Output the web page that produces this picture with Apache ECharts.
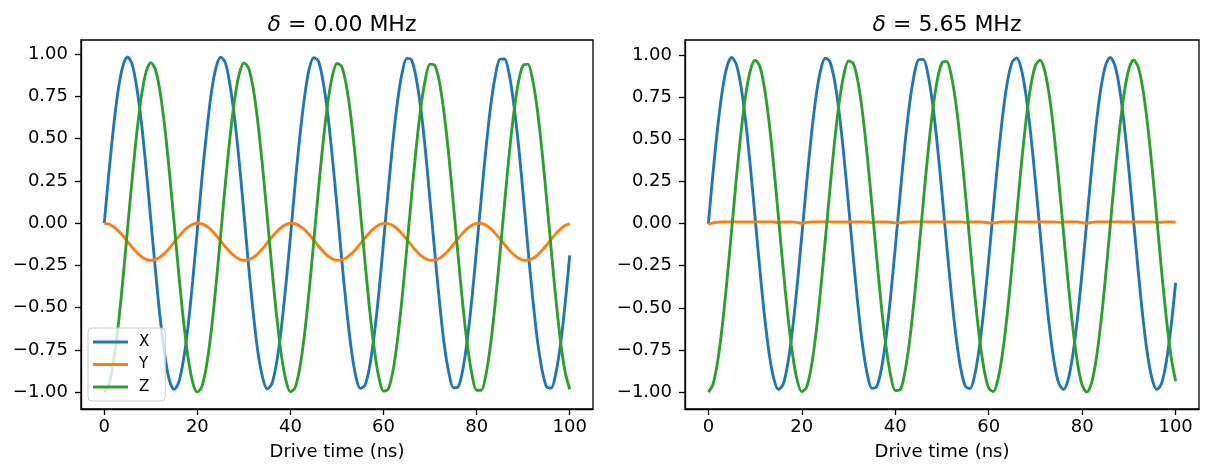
<!DOCTYPE html>
<html><head><meta charset="utf-8">
<script src="https://cdn.jsdelivr.net/npm/echarts@6/dist/echarts.min.js"></script>
<style>html,body{margin:0;padding:0;background:#fff}#c{width:1207px;height:471px}</style>
</head><body><div id="c"></div>
<script>
const time=[0,1,2,3,4,5,6,7,8,9,10,11,12,13,14,15,16,17,18,19,20,21,22,23,24,25,26,27,28,29,30,31,32,33,34,35,36,37,38,39,40,41,42,43,44,45,46,47,48,49,50,51,52,53,54,55,56,57,58,59,60,61,62,63,64,65,66,67,68,69,70,71,72,73,74,75,76,77,78,79,80,81,82,83,84,85,86,87,88,89,90,91,92,93,94,95,96,97,98,99,100];
const xTicks=[0,20,40,60,80,100];
const yTicks=[-1,-0.75,-0.5,-0.25,0,0.25,0.5,0.75,1];
const titleLeft='0.00';
const titleRight='5.65';
const xLabel='Drive time (ns)';
const names=['X','Y','Z'];

// delta = 0.00 MHz
const xL=[0,0.30,0.57,0.79,0.93,0.983,0.94,0.80,0.59,0.32,0.02,
-0.28,-0.56,-0.78,-0.93,-0.983,-0.94,-0.81,-0.61,-0.34,-0.04,
0.27,0.54,0.77,0.92,0.982,0.95,0.82,0.62,0.36,0.06,
-0.25,-0.53,-0.76,-0.91,-0.981,-0.95,-0.83,-0.63,-0.37,-0.08,
0.23,0.51,0.74,0.91,0.979,0.96,0.84,0.65,0.39,0.10,
-0.21,-0.49,-0.73,-0.90,-0.977,-0.96,-0.85,-0.66,-0.41,-0.11,
0.19,0.48,0.72,0.89,0.975,0.966,0.86,0.68,0.43,0.13,
-0.17,-0.46,-0.71,-0.88,-0.973,-0.969,-0.87,-0.69,-0.44,-0.15,
0.15,0.44,0.69,0.87,0.970,0.972,0.88,0.70,0.46,0.17,
-0.14,-0.43,-0.68,-0.86,-0.966,-0.975,-0.89,-0.72,-0.48,-0.19];
const yL=[0,-0.005,-0.021,-0.045,-0.075,-0.109,-0.143,-0.173,-0.198,-0.214,-0.220,
-0.215,-0.200,-0.177,-0.147,-0.113,-0.079,-0.048,-0.023,-0.007,0.000,
-0.004,-0.018,-0.041,-0.071,-0.105,-0.139,-0.170,-0.195,-0.213,-0.220,
-0.216,-0.203,-0.180,-0.151,-0.117,-0.083,-0.052,-0.026,-0.008,0.000,
-0.003,-0.016,-0.038,-0.067,-0.100,-0.135,-0.166,-0.193,-0.211,-0.219,
-0.217,-0.205,-0.183,-0.155,-0.122,-0.088,-0.056,-0.029,-0.010,-0.001,
-0.002,-0.014,-0.035,-0.063,-0.096,-0.130,-0.163,-0.190,-0.209,-0.219,
-0.218,-0.207,-0.187,-0.159,-0.126,-0.092,-0.059,-0.032,-0.012,-0.001,
-0.001,-0.012,-0.032,-0.060,-0.092,-0.126,-0.159,-0.187,-0.207,-0.218,
-0.219,-0.209,-0.190,-0.162,-0.130,-0.096,-0.063,-0.035,-0.014,-0.002];
const zL=[-1.000,-0.953,-0.816,-0.603,-0.333,-0.034,0.265,0.537,0.755,0.897,0.950,
0.908,0.777,0.568,0.301,0.003,-0.297,-0.572,-0.793,-0.941,-0.999,
-0.964,-0.837,-0.633,-0.369,-0.072,0.229,0.506,0.732,0.884,0.948,
0.919,0.798,0.597,0.337,0.041,-0.261,-0.540,-0.770,-0.927,-0.997,
-0.973,-0.858,-0.662,-0.404,-0.110,0.193,0.474,0.707,0.870,0.945,
0.927,0.817,0.626,0.371,0.079,-0.224,-0.508,-0.744,-0.912,-0.993,
-0.981,-0.877,-0.690,-0.439,-0.147,0.155,0.441,0.681,0.854,0.941,
0.935,0.836,0.653,0.406,0.116,-0.187,-0.474,-0.719,-0.895,-0.988,
-0.988,-0.895,-0.717,-0.472,-0.185,0.118,0.408,0.655,0.837,0.935,
0.941,0.853,0.680,0.439,0.153,-0.150,-0.441,-0.692,-0.878,-0.982];

// delta = 5.65 MHz
const xR=[0,0.301,0.573,0.790,0.932,0.985,0.943,0.811,0.602,0.335,0.036,
-0.267,-0.544,-0.769,-0.920,-0.984,-0.953,-0.831,-0.630,-0.368,-0.072,
0.232,0.513,0.745,0.907,0.981,0.961,0.850,0.657,0.402,0.108,
-0.197,-0.482,-0.722,-0.892,-0.977,-0.969,-0.867,-0.683,-0.434,-0.143,
0.161,0.451,0.697,0.876,0.972,0.974,0.884,0.709,0.466,0.179,
-0.126,-0.418,-0.670,-0.859,-0.965,-0.979,-0.899,-0.733,-0.497,-0.214,
0.090,0.386,0.644,0.841,0.957,0.982,0.913,0.757,0.528,0.249,
-0.054,-0.352,-0.616,-0.822,-0.948,-0.984,-0.926,-0.779,-0.558,-0.283,
0.018,0.318,0.588,0.801,0.938,0.985,0.938,0.801,0.587,0.318,
0.018,-0.284,-0.559,-0.780,-0.926,-0.984,-0.948,-0.821,-0.616,-0.351];
const yR=[-0.005,0.004,0.008,0.01,0.01,0.01,0.01,0.01,0.01,0.01,0.01,
0.01,0.01,0.01,0.009,0.006,0.009,0.01,0.01,0.007,0.002,
0.007,0.01,0.01,0.01,0.01,0.01,0.01,0.01,0.01,0.01,
0.01,0.01,0.01,0.009,0.006,0.009,0.01,0.01,0.008,0.004,
0.004,0.008,0.01,0.01,0.01,0.01,0.01,0.01,0.01,0.01,
0.01,0.01,0.01,0.01,0.007,0.009,0.01,0.01,0.008,0.004,
0.003,0.008,0.01,0.01,0.01,0.01,0.01,0.01,0.01,0.01,
0.01,0.01,0.01,0.01,0.007,0.009,0.01,0.01,0.01,0.006,
0.002,0.007,0.01,0.01,0.01,0.01,0.01,0.01,0.01,0.01,
0.01,0.01,0.01,0.01,0.01,0.007,0.008,0.01,0.01,0.008,0.004];
const zR=[-1.000,-0.953,-0.816,-0.603,-0.333,-0.033,0.269,0.544,0.765,0.911,0.969,
0.933,0.806,0.601,0.337,0.039,-0.264,-0.544,-0.772,-0.929,-0.997,
-0.972,-0.856,-0.659,-0.400,-0.105,0.199,0.483,0.719,0.884,0.964,
0.950,0.844,0.655,0.403,0.110,-0.194,-0.482,-0.724,-0.899,-0.990,
-0.987,-0.891,-0.711,-0.465,-0.176,0.129,0.420,0.669,0.853,0.954,
0.962,0.877,0.707,0.467,0.181,-0.123,-0.417,-0.673,-0.865,-0.976,
-0.996,-0.921,-0.760,-0.528,-0.246,0.057,0.354,0.615,0.816,0.938,
0.969,0.905,0.753,0.528,0.251,-0.051,-0.351,-0.617,-0.827,-0.958,
-1.000,-0.947,-0.805,-0.588,-0.316,-0.015,0.287,0.558,0.776,0.917,
0.970,0.928,0.796,0.587,0.320,0.020,-0.282,-0.559,-0.784,-0.935];

const colors=['#1f77b4','#ff7f0e','#2ca02c'];
const FONT='DejaVu Sans';
const pair=arr=>time.map((t,i)=>[t,arr[i]]);
const fmtY=v=>(v<0?'\u2212':'')+Math.abs(v).toFixed(2);

const grids=[
  {left:81,top:40,width:512,height:369},
  {left:685,top:40,width:514,height:369}
];
const yRange=[[-1.099,1.084],[-1.1,1.089]];

function xAxis(i){return {type:'value',gridIndex:i,min:-5,max:105,position:'bottom',
  axisLine:{show:true,onZero:false,lineStyle:{color:'#000',width:1.3}},splitLine:{show:false},
  axisTick:{show:true,customValues:xTicks,length:6,lineStyle:{color:'#000',width:1.3}},
  axisLabel:{customValues:xTicks,margin:9,fontSize:18,fontFamily:FONT,color:'#000',formatter:v=>String(v)},
  name:xLabel,nameLocation:'middle',nameGap:34,nameTextStyle:{fontSize:18,fontFamily:FONT,color:'#000'}};}
function yAxis(i){return {type:'value',gridIndex:i,min:yRange[i][0],max:yRange[i][1],position:'left',
  axisLine:{show:true,onZero:false,lineStyle:{color:'#000',width:1.3}},splitLine:{show:false},
  axisTick:{show:true,customValues:yTicks,length:6,lineStyle:{color:'#000',width:1.3}},
  axisLabel:{customValues:yTicks,margin:13,fontSize:18,fontFamily:FONT,color:'#000',formatter:fmtY}};}

const sets=[[xL,yL,zL],[xR,yR,zR]];
const series=[];
sets.forEach((s,g)=>s.forEach((arr,k)=>series.push({
  type:'line',name:names[k],xAxisIndex:g,yAxisIndex:g,data:pair(arr),
  showSymbol:false,smooth:0.3,
  lineStyle:{color:colors[k],width:2.9},itemStyle:{color:colors[k]}
})));

const mkTitle=(val,cx)=>({text:'{d|δ} = '+val+' MHz',left:cx,top:9,textAlign:'center',
  textStyle:{fontSize:22,fontFamily:FONT,fontWeight:'normal',color:'#000',
  rich:{d:{fontStyle:'italic',fontSize:22,fontFamily:FONT,color:'#000'}}}});

const chart=echarts.init(document.getElementById('c'),null,{renderer:'canvas'});
chart.setOption({
  animation:false,backgroundColor:'#fff',
  title:[mkTitle(titleLeft,337),mkTitle(titleRight,942)],
  grid:grids.map(g=>Object.assign({show:true,borderColor:'#000',borderWidth:1.3,containLabel:false},g)),
  xAxis:[xAxis(0),xAxis(1)],
  yAxis:[yAxis(0),yAxis(1)],
  legend:{data:names,orient:'vertical',left:88,top:328,icon:'rect',itemWidth:35,itemHeight:3,itemGap:6.5,
    padding:[6,16,6,5],backgroundColor:'rgba(255,255,255,0.8)',borderColor:'#cccccc',borderWidth:1,borderRadius:4,
    textStyle:{fontSize:15,lineHeight:16,fontFamily:FONT,color:'#000',padding:[0,0,0,6]}},
  series:series
});
</script></body></html>
